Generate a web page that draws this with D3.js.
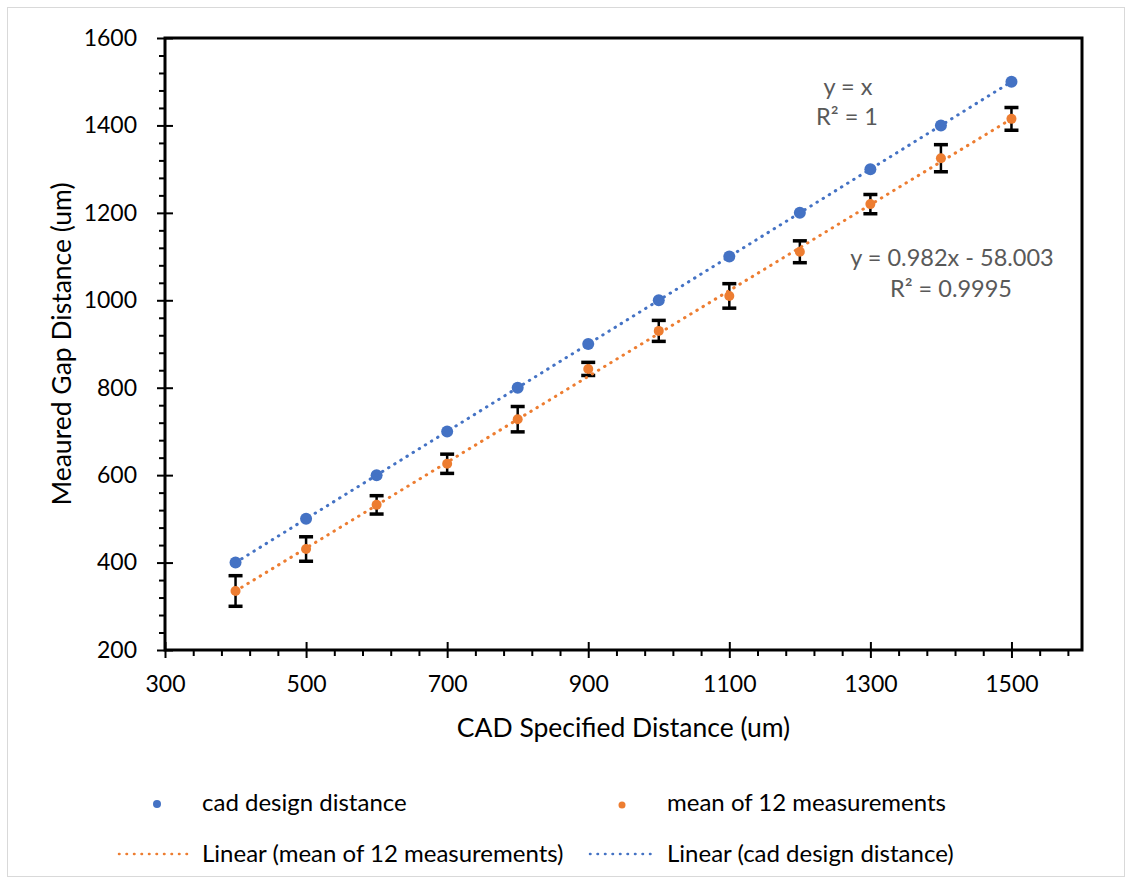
<!DOCTYPE html>
<html>
<head>
<meta charset="utf-8">
<script src="https://cdn.jsdelivr.net/npm/d3@7"></script>
<style>
  body { margin: 0; background: #fff; }
  svg { font-family: Lato, "Open Sans", sans-serif; }
</style>
</head>
<body>
<svg id="chart" width="1132" height="884"></svg>
<script>
// data
var cadDistance = [400, 500, 600, 700, 800, 900, 1000, 1100, 1200, 1300, 1400, 1500];
var cadDesign = [400, 500, 600, 700, 800, 900, 1000, 1100, 1200, 1300, 1400, 1500];
var meanMeasured = [335, 431, 532, 626, 728, 843, 930, 1010, 1111, 1220, 1325, 1415];
var stdError = [35, 28, 21, 22, 29, 15, 24, 28, 25, 22, 31, 26];

var xMajorTicks = [300, 500, 700, 900, 1100, 1300, 1500];
var yMajorTicks = [200, 400, 600, 800, 1000, 1200, 1400, 1600];

// trendline coefficients shown on the chart
var fitCad = { slope: 1, intercept: 0 };
var fitMean = { slope: 0.982, intercept: -58.003 };

var blue = "#4472C4", orange = "#ED7D31";

var svg = d3.select("#chart");

// outer chart border
svg.append("rect")
  .attr("x", 7.5).attr("y", 7.5)
  .attr("width", 1117).attr("height", 869)
  .attr("fill", "#fff")
  .attr("stroke", "#d9d9d9")
  .attr("stroke-width", 1);

var m = { left: 165, right: 1082, top: 38, bottom: 650 };

var x = d3.scaleLinear().domain([300, 1600]).range([m.left, m.right]);
var y = d3.scaleLinear().domain([200, 1600]).range([m.bottom, m.top]);

var xMinor = d3.range(340, 1600, 40).filter(function (v) { return (v - 300) % 200 !== 0; });
var yMinor = d3.range(240, 1600, 40).filter(function (v) { return (v - 200) % 200 !== 0; });

// minor ticks (outside only)
svg.append("g")
  .attr("transform", "translate(0," + m.bottom + ")")
  .call(d3.axisBottom(x).tickValues(xMinor).tickSize(6).tickFormat(""))
  .call(function (g) { g.select(".domain").remove(); })
  .selectAll("line").attr("stroke", "#000").attr("stroke-width", 2);

svg.append("g")
  .attr("transform", "translate(" + m.left + ",0)")
  .call(d3.axisLeft(y).tickValues(yMinor).tickSize(6).tickFormat(""))
  .call(function (g) { g.select(".domain").remove(); })
  .selectAll("line").attr("stroke", "#000").attr("stroke-width", 2);

// major ticks, crossing the axis
var xAxis = svg.append("g")
  .attr("transform", "translate(0," + m.bottom + ")")
  .call(d3.axisBottom(x).tickValues(xMajorTicks).tickSize(8).tickPadding(18).tickFormat(d3.format("d")));
xAxis.select(".domain").remove();
xAxis.selectAll(".tick line").attr("y1", -8).attr("stroke", "#000").attr("stroke-width", 2);
xAxis.selectAll(".tick text")
  .attr("font-family", "Lato, sans-serif")
  .attr("font-size", 23)
  .attr("fill", "#000");

var yAxis = svg.append("g")
  .attr("transform", "translate(" + m.left + ",0)")
  .call(d3.axisLeft(y).tickValues(yMajorTicks).tickSize(8).tickPadding(20).tickFormat(d3.format("d")));
yAxis.select(".domain").remove();
yAxis.selectAll(".tick line").attr("x1", 8).attr("stroke", "#000").attr("stroke-width", 2);
yAxis.selectAll(".tick text")
  .attr("font-family", "Lato, sans-serif")
  .attr("font-size", 23)
  .attr("fill", "#000");

// plot frame
svg.append("rect")
  .attr("x", m.left).attr("y", m.top)
  .attr("width", m.right - m.left).attr("height", m.bottom - m.top)
  .attr("fill", "none")
  .attr("stroke", "#000")
  .attr("stroke-width", 3);

// axis titles
svg.append("text")
  .attr("x", (m.left + m.right) / 2).attr("y", 737)
  .attr("text-anchor", "middle")
  .attr("font-size", 26.5)
  .text("CAD Specified Distance (um)");

svg.append("text")
  .attr("transform", "translate(71," + (m.top + m.bottom) / 2 + ") rotate(-90)")
  .attr("text-anchor", "middle")
  .attr("font-size", 26.5)
  .text("Meaured Gap Distance (um)");

var points = cadDistance.map(function (d, i) {
  return { x: d, cad: cadDesign[i], mean: meanMeasured[i], err: stdError[i] };
});

// error bars
var eb = svg.append("g").attr("stroke", "#000").attr("stroke-width", 3.5);
points.forEach(function (p) {
  var cx = x(p.x);
  eb.append("line")
    .attr("x1", cx).attr("x2", cx)
    .attr("y1", y(p.mean + p.err)).attr("y2", y(p.mean - p.err))
    .attr("stroke-width", 2.5);
  eb.append("line")
    .attr("x1", cx - 7).attr("x2", cx + 7)
    .attr("y1", y(p.mean + p.err)).attr("y2", y(p.mean + p.err));
  eb.append("line")
    .attr("x1", cx - 7).attr("x2", cx + 7)
    .attr("y1", y(p.mean - p.err)).attr("y2", y(p.mean - p.err));
});

// markers
svg.append("g").selectAll("circle")
  .data(points)
  .enter().append("circle")
  .attr("cx", function (d) { return x(d.x); })
  .attr("cy", function (d) { return y(d.cad); })
  .attr("r", 6)
  .attr("fill", blue);

svg.append("g").selectAll("circle")
  .data(points)
  .enter().append("circle")
  .attr("cx", function (d) { return x(d.x); })
  .attr("cy", function (d) { return y(d.mean); })
  .attr("r", 5)
  .attr("fill", orange);

// trendlines
var xExtent = d3.extent(cadDistance);
function trend(fit, color) {
  svg.append("line")
    .attr("x1", x(xExtent[0])).attr("y1", y(fit.slope * xExtent[0] + fit.intercept))
    .attr("x2", x(xExtent[1])).attr("y2", y(fit.slope * xExtent[1] + fit.intercept))
    .attr("stroke", color)
    .attr("stroke-width", 3)
    .attr("stroke-linecap", "round")
    .attr("stroke-dasharray", "0.5 6.7");
}
trend(fitMean, orange);
trend(fitCad, blue);

// trendline labels
var labels = [
  { text: "y = x", cx: 848, by: 95 },
  { text: "R\u00B2 = 1", cx: 847, by: 125 },
  { text: "y = 0.982x - 58.003", cx: 952, by: 266 },
  { text: "R\u00B2 = 0.9995", cx: 951, by: 297 }
];
svg.append("g").selectAll("text")
  .data(labels)
  .enter().append("text")
  .attr("x", function (d) { return d.cx; })
  .attr("y", function (d) { return d.by; })
  .attr("text-anchor", "middle")
  .attr("font-size", 23.5)
  .attr("fill", "#595959")
  .text(function (d) { return d.text; });

// legend
var legend = svg.append("g").attr("font-size", 24).attr("fill", "#000");

legend.append("circle").attr("cx", 157).attr("cy", 804).attr("r", 4).attr("fill", blue);
legend.append("text").attr("x", 202).attr("y", 811).text("cad design distance");

legend.append("circle").attr("cx", 622).attr("cy", 805).attr("r", 3.5).attr("fill", orange);
legend.append("text").attr("x", 667).attr("y", 811).text("mean of 12 measurements");

legend.append("line")
  .attr("x1", 119).attr("x2", 187).attr("y1", 854).attr("y2", 854)
  .attr("stroke", orange).attr("stroke-width", 2.5)
  .attr("stroke-linecap", "round").attr("stroke-dasharray", "0.5 7");
legend.append("text").attr("x", 202).attr("y", 862).text("Linear (mean of 12 measurements)");

legend.append("line")
  .attr("x1", 590).attr("x2", 653).attr("y1", 854).attr("y2", 854)
  .attr("stroke", blue).attr("stroke-width", 2.5)
  .attr("stroke-linecap", "round").attr("stroke-dasharray", "0.5 7");
legend.append("text").attr("x", 667).attr("y", 862).text("Linear (cad design distance)");
</script>
</body>
</html>
